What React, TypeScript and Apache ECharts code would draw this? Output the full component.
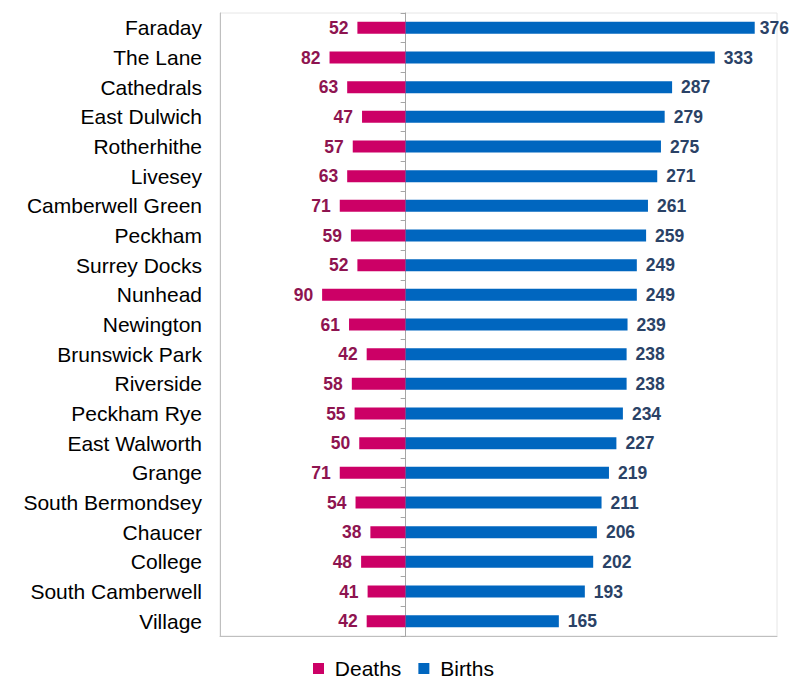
import React, { useEffect, useRef } from "react";
import * as echarts from "echarts";

const wards = [
  "Faraday", "The Lane", "Cathedrals", "East Dulwich", "Rotherhithe", "Livesey",
  "Camberwell Green", "Peckham", "Surrey Docks", "Nunhead", "Newington",
  "Brunswick Park", "Riverside", "Peckham Rye", "East Walworth", "Grange",
  "South Bermondsey", "Chaucer", "College", "South Camberwell", "Village",
];
const deaths = [52, 82, 63, 47, 57, 63, 71, 59, 52, 90, 61, 42, 58, 55, 50, 71, 54, 38, 48, 41, 42];
const births = [376, 333, 287, 279, 275, 271, 261, 259, 249, 249, 239, 238, 238, 234, 227, 219, 211, 206, 202, 193, 165];

export default function App() {
  const ref = useRef<HTMLDivElement>(null);
  useEffect(() => {
    document.body.style.margin = "0";
    const chart = echarts.init(ref.current!, null, { renderer: "svg" });
    const font = "'Liberation Sans', Arial, sans-serif";
    const maxBirths = Math.max(...births);
    chart.setOption({
      animation: false,
      textStyle: { fontFamily: font },
      grid: {
        left: 220, top: 13, right: 19, bottom: 41,
        show: true, borderColor: "#e6e6e6", borderWidth: 1, backgroundColor: "transparent",
      },
      legend: {
        left: 313, top: 658, padding: 0,
        itemWidth: 11, itemHeight: 11, itemGap: 17,
        icon: "rect",
        formatter: (n: string) => " " + n,
        textStyle: { fontSize: 21, lineHeight: 18, color: "#000", fontFamily: font },
        data: ["Deaths", "Births"],
      },
      xAxis: {
        type: "value", min: -200, max: 400,
        splitLine: { show: false },
        axisLabel: { show: false },
        axisTick: { show: false },
        axisLine: { show: true, onZero: false, lineStyle: { color: "#bfbfbf" } },
      },
      yAxis: [
        {
          type: "category", data: wards, inverse: true,
          axisLine: { show: true, onZero: false, lineStyle: { color: "#bfbfbf" } },
          axisTick: { show: false },
          axisLabel: { fontSize: 21, color: "#000", margin: 18, fontFamily: font },
        },
        {
          type: "category", data: wards, inverse: true, position: "left",
          axisLine: { show: true, onZero: true, lineStyle: { color: "#a6a6a6" } },
          axisTick: { show: true, length: 5, lineStyle: { color: "#a6a6a6" } },
          axisLabel: { show: false },
        },
      ],
      series: [
        {
          name: "Deaths", type: "bar", stack: "t", yAxisIndex: 0,
          barWidth: 12,
          itemStyle: { color: "#CC0066" },
          data: deaths.map((d) => -d),
          label: {
            show: true, position: "left", distance: 9,
            formatter: (p: any) => String(Math.abs(p.value)),
            fontSize: 17.5, fontWeight: "bold", color: "#8E1450", fontFamily: font,
          },
        },
        {
          name: "Births", type: "bar", stack: "t", yAxisIndex: 0,
          barWidth: 12,
          itemStyle: { color: "#0066BF" },
          data: births.map((v) => (v === maxBirths ? { value: v, label: { distance: 5 } } : v)),
          label: {
            show: true, position: "right", distance: 9,
            fontSize: 17.5, fontWeight: "bold", color: "#2A4266", fontFamily: font,
          },
        },
      ],
    });
    return () => chart.dispose();
  }, []);
  return <div ref={ref} style={{ width: 796, height: 677 }} />;
}
